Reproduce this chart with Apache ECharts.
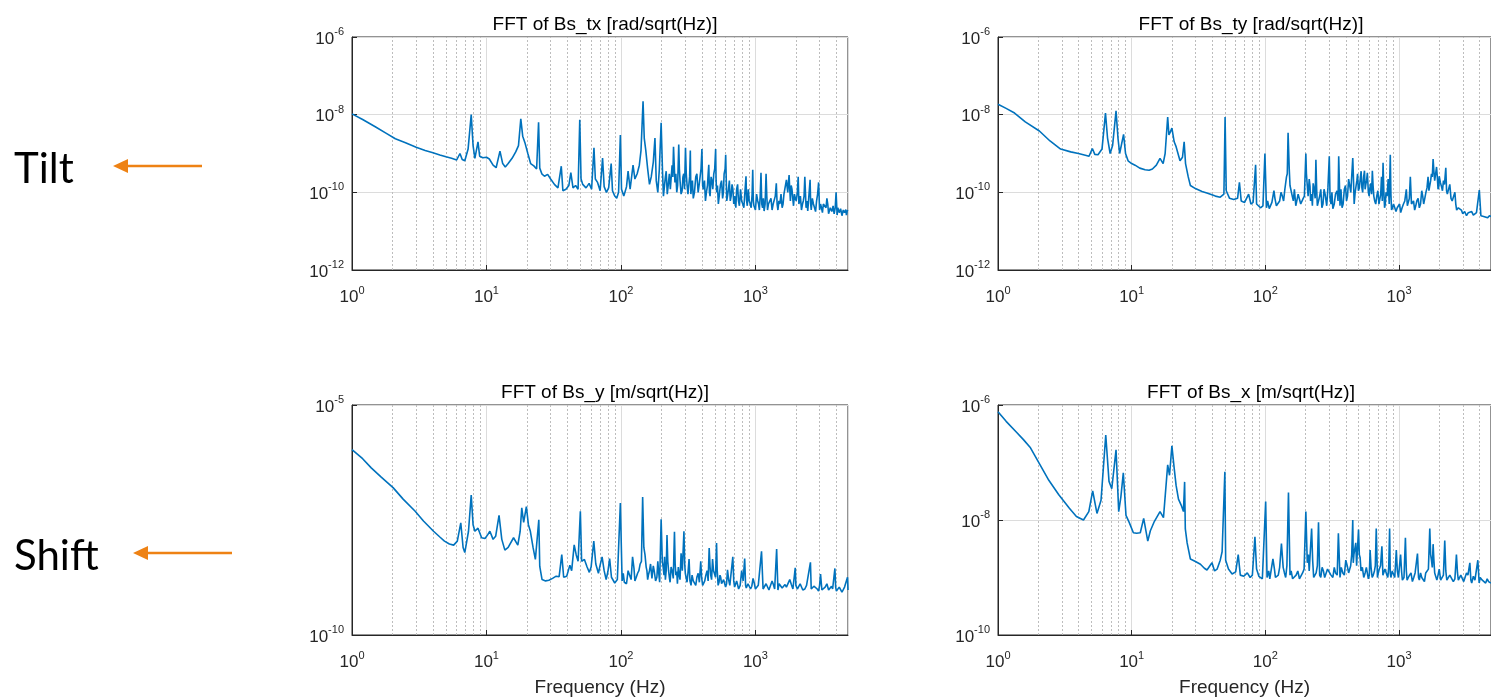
<!DOCTYPE html>
<html>
<head>
<meta charset="utf-8">
<script src="https://cdn.jsdelivr.net/npm/echarts@6/dist/echarts.min.js"></script>
<style>
html,body{margin:0;padding:0;background:#ffffff;}
#c{width:1491px;height:698px;}
</style>
</head>
<body>
<div id="c"></div>
<script>
// ---------- data ----------
const titles = ['FFT of Bs_tx [rad/sqrt(Hz)]', 'FFT of Bs_ty [rad/sqrt(Hz)]', 'FFT of Bs_y [m/sqrt(Hz)]', 'FFT of Bs_x [m/sqrt(Hz)]'];
const sideLabels = ['Tilt', 'Shift'];
const xLabel = 'Frequency (Hz)';
const freqRange = [1, 4880];
const yRangeTilt = [1e-12, 1e-6];
const yRangeShiftY = [1e-10, 1e-5];
const yRangeShiftX = [1e-10, 1e-6];
const yLabelStep = [2, 2, 5, 2];

const bsTx = [[1,1.05e-8],[1.2,7.5e-9],[1.5,4.8e-9],[1.8,3.3e-9],[2.1,2.4e-9],[2.5,1.9e-9],[3,1.45e-9],[3.5,1.2e-9],[4,1.05e-9],[4.5,9.2e-10],[5,8.2e-10],[5.5,7.5e-10],[6,6.8e-10],[6.35,1.0e-9],[6.6,7.0e-10],[6.9,6.5e-10],[7.3,1.3e-9],[7.7,1.0e-8],[7.95,1.6e-9],[8.2,7.5e-10],[8.65,2.0e-9],[8.9,8.5e-10],[9.4,7.8e-10],[10,8.0e-10],[10.5,7.2e-10],[11.2,5.0e-10],[11.8,4.3e-10],[12.6,1.15e-9],[13.2,5.5e-10],[13.8,4.5e-10],[14.5,5.5e-10],[15.5,7.5e-10],[16.5,1.1e-9],[17.3,1.6e-9],[18.0,7.8e-9],[18.6,2.8e-9],[19.4,1.8e-9],[20.3,1.0e-9],[21.3,5.5e-10],[22.5,4.8e-10],[23.6,4.0e-10],[24.4,6.4e-9],[24.9,4.2e-10],[25.8,3.0e-10],[27,2.6e-10],[28.5,2.9e-10],[30,2.2e-10],[32,1.6e-10],[34,1.3e-10],[36,4.7e-10],[37,1.1e-10],[39,1.2e-10],[41,1.5e-10],[42.4,3.2e-10],[44,1.3e-10],[46,1.5e-10],[48,1.2e-10],[49.4,7.4e-9],[50.5,2.2e-10],[52,1.6e-10],[55,1.3e-10],[58,1.7e-10],[60.5,1.2e-10],[63,1.4e-9],[64.5,2.2e-10],[67,1.8e-10],[70,1.1e-10],[73,7.6e-10],[75,1.4e-10],[78,1.0e-10],[81,1.3e-10],[84.6,5.5e-10],[86.5,1.1e-10],[90,8e-11],[93,7e-11],[96,1.0e-10],[99,3.0e-9],[101,1.2e-10],[105,8e-11],[110,1.4e-10],[113,3.5e-10],[117,1.2e-10],[123,5.0e-10],[127,2.2e-10],[132,3.0e-10],[137,5.0e-10],[141,1.2e-9],[146,2.2e-8],[149,2.5e-9],[153,1.2e-9],[158,4.0e-10],[163,1.6e-10],[168,2.5e-10],[174,6.0e-10],[179,2.5e-9],[183,2.0e-10],[188,1.0e-10],[193,4.0e-10],[199,6.2e-9],[204,3.0e-10],[210,1.3e-10],[217,3.5e-10],[225,1.6e-10],[233,1.2e-10],[240,5.0e-10],[246,1.5e-9],[252,1.8e-10],[260,1.0e-10],[269,1.7e-9],[275,2.0e-10],[285,1.1e-10],[293,3.0e-10],[302,1.4e-9],[310,1.6e-10],[320,8e-11],[328,1.2e-9],[335,1.4e-10],[345,7e-11],[360,2.5e-10],[375,1.0e-10],[388,1.4e-10],[400,1.3e-9],[410,1.2e-10],[425,6e-11],[440,1.5e-10],[450,5.1e-10],[460,8e-11],[475,2.0e-10],[490,3.0e-10],[506,1.3e-9],[515,1.0e-10],[530,5e-11],[550,1.6e-10],[570,7e-11],[585,3.0e-10],[601,9.3e-10],[612,6e-11],[630,1.2e-10],[650,6e-11],[670,1.6e-10],[690,5e-11],[715,4e-11],[737,1.6e-10],[760,4.5e-11],[790,6e-11],[820,4e-11],[851,2.6e-10],[870,4.5e-11],[900,6e-11],[930,4e-11],[955,3.8e-10],[975,4.5e-11],[1000,3.5e-11],[1040,6e-11],[1070,3.5e-11],[1100,3.2e-10],[1130,4e-11],[1160,3.3e-11],[1200,3.0e-10],[1230,3.5e-11],[1280,6e-11],[1330,3.5e-11],[1380,5e-11],[1430,1.7e-10],[1470,3.5e-11],[1520,5e-11],[1580,4e-11],[1630,9e-11],[1700,2.1e-10],[1740,1.0e-10],[1780,2.8e-10],[1820,6e-11],[1870,1.2e-10],[1920,4.5e-11],[1980,7e-11],[2080,2.5e-10],[2130,5e-11],[2200,3.5e-11],[2270,6e-11],[2330,2.5e-10],[2380,4e-11],[2450,3.3e-11],[2550,2.1e-10],[2600,3.5e-11],[2700,5e-11],[2800,3.2e-11],[2950,1.8e-10],[3000,3.5e-11],[3150,3.0e-11],[3300,4.5e-11],[3400,7e-11],[3500,2.8e-11],[3700,3.2e-11],[3850,2.8e-11],[3980,1.0e-10],[4050,2.6e-11],[4200,3.0e-11],[4400,2.5e-11],[4600,3.0e-11],[4750,2.6e-11],[4880,3.3e-11]];
const bsTxFill = [[207,8e-11],[214,2.5e-10],[221,9e-11],[229,3e-10],[236,1.1e-10],[243,2.5e-10],[256,3e-10],[264,1.5e-10],[272,4e-10],[280,9e-11],[289,2.5e-10],[297,1.2e-10],[306,3e-10],[315,9e-11],[324,2.5e-10],[331,9e-11],[340,2e-10],[352,1e-10],[367,3e-10],[381,1.5e-10],[394,4e-10],[405,1.5e-10],[418,2e-10],[432,1e-10],[445,3e-10],[455,1e-10],[468,2.5e-10],[482,1.2e-10],[498,4e-10],[510,2e-10],[522,1.5e-10],[540,9e-11],[560,2e-10],[578,1e-10],[595,4e-10],[620,8e-11],[640,2e-10],[660,8e-11],[680,1.2e-10],[700,8e-11],[725,1.2e-10],[748,6e-11],[775,1.2e-10],[805,5e-11],[835,1e-10],[860,6e-11],[885,1.2e-10],[915,5e-11],[945,9e-11],[965,6e-11],[990,5e-11],[1020,9e-11],[1055,5e-11],[1085,8e-11],[1115,5e-11],[1145,7e-11],[1180,5e-11],[1215,8e-11],[1250,5e-11],[1305,7e-11],[1355,5e-11],[1405,8e-11],[1450,5e-11],[1495,6e-11],[1550,9e-11],[1605,5e-11],[1660,1.3e-10],[1720,1.4e-10],[1760,1.8e-10],[1800,1.2e-10],[1845,1.5e-10],[1895,7e-11],[1950,9e-11],[2010,6e-11],[2050,1e-10],[2105,5e-11],[2160,8e-11],[2240,5e-11],[2300,8e-11],[2415,6e-11],[2490,7e-11],[2575,5e-11],[2650,7e-11],[2750,4.5e-11],[2850,6e-11],[2900,9e-11],[3050,5e-11],[3100,4e-11],[3200,5e-11],[3350,4e-11],[3450,5e-11],[3600,4e-11],[3780,4.5e-11],[3920,4e-11],[4100,4e-11],[4300,3.8e-11],[4500,3.5e-11],[4700,3.6e-11],[4820,3.4e-11]];

const bsTy = [[1,1.86e-8],[1.15,1.45e-8],[1.33,1.1e-8],[1.6,6.5e-9],[2.04,3.8e-9],[2.45,2.1e-9],[2.94,1.3e-9],[3.5,1.1e-9],[4.0,1.0e-9],[4.5,9.0e-10],[4.8,8.5e-10],[5.08,1.35e-9],[5.3,9.5e-10],[5.6,9.3e-10],[6.0,1.3e-9],[6.37,1.1e-8],[6.6,2.5e-9],[6.9,1.0e-9],[7.2,1.6e-9],[7.64,1.25e-8],[7.9,2.5e-9],[8.13,1.0e-9],[8.7,3.1e-9],[9.0,1.0e-9],[9.4,6.5e-10],[10,5.5e-10],[10.6,5.0e-10],[11.5,4.2e-10],[12.6,3.8e-10],[13.5,3.7e-10],[14.3,4.0e-10],[15.3,5.0e-10],[16.3,7.5e-10],[17.2,5.5e-10],[17.8,1.0e-9],[18.6,8.7e-9],[19.0,3.0e-9],[19.4,3.5e-9],[20,4.5e-9],[20.8,2.0e-9],[21.5,1.5e-9],[23,6.5e-10],[24.0,8.0e-10],[24.7,2.0e-9],[25.3,5.5e-10],[26.5,2.5e-10],[27.5,1.5e-10],[30,1.25e-10],[33.6,1.05e-10],[37,9.5e-11],[42.3,8e-11],[46,7.5e-11],[49,9e-11],[50,8.7e-9],[51,1.1e-10],[54,7e-11],[58,6.5e-11],[62,7e-11],[64,1.8e-10],[66,6e-11],[70,5.5e-11],[75,9e-11],[78,5e-11],[81,5.5e-11],[84.6,5.1e-10],[86,5e-11],[92,4e-11],[96,4.5e-11],[99.3,1.0e-9],[102,4e-11],[107,3.8e-11],[112,5.5e-11],[116,1.1e-10],[121,4.5e-11],[128,6e-11],[134,8e-11],[140,1.2e-10],[144,2.5e-10],[148,3.4e-9],[151,4.0e-10],[156,1.5e-10],[162,6e-11],[169,4.5e-11],[176,9e-11],[184,5e-11],[192,7e-11],[201,1.0e-9],[206,1.5e-10],[213,2.2e-10],[218,6e-11],[225,4.5e-11],[232,1.2e-10],[239,6.9e-10],[245,4.5e-11],[255,8e-11],[265,4e-11],[275,1.2e-10],[288,4.5e-11],[301,8.5e-10],[310,5e-11],[320,3.8e-11],[335,9e-11],[354,8.5e-10],[362,4.5e-11],[375,4e-11],[390,1.2e-10],[405,6e-11],[420,2.2e-10],[436,1.0e-10],[451,7.6e-10],[462,5e-11],[478,1.5e-10],[490,3.0e-10],[505,1.3e-10],[521,3.5e-10],[535,1.0e-10],[552,3.6e-10],[565,1.6e-10],[580,3.2e-10],[598,8e-11],[615,1.7e-10],[632,3.6e-10],[648,8e-11],[670,5e-11],[695,1.1e-10],[720,4.5e-11],[740,2.5e-10],[760,5.8e-10],[780,4e-11],[800,1.0e-10],[830,2.2e-10],[861,9.3e-10],[880,3.5e-11],[910,5e-11],[950,3.2e-11],[990,4.5e-11],[1030,3e-11],[1080,5e-11],[1135,1.2e-10],[1175,4e-11],[1216,2.5e-10],[1260,4.5e-11],[1310,3.5e-11],[1360,6e-11],[1420,4e-11],[1480,1.1e-10],[1530,5e-11],[1590,1.0e-10],[1650,2.5e-10],[1700,1.5e-10],[1750,3.0e-10],[1800,7.2e-10],[1850,2.0e-10],[1910,4.5e-10],[1960,1.2e-10],[2000,2.6e-10],[2080,1.4e-10],[2150,2.0e-10],[2240,4.3e-10],[2300,9e-11],[2400,1.6e-10],[2500,6e-11],[2620,1.0e-10],[2700,3.5e-11],[2860,4.5e-11],[3000,2.8e-11],[3200,2.5e-11],[3400,2.8e-11],[3600,2.6e-11],[3800,3.0e-11],[3990,1.15e-10],[4100,2.5e-11],[4300,2.4e-11],[4610,2.2e-11],[4880,2.4e-11]];
const bsTyFill = [[104,6e-11],[110,4e-11],[118,7e-11],[124,5e-11],[131,1e-10],[137,6e-11],[146,3e-10],[153,1.5e-10],[159,8e-11],[165,1.2e-10],[172,6e-11],[180,1e-10],[188,5e-11],[196,8e-11],[203,3e-10],[209,8e-11],[216,1.4e-10],[222,9e-11],[228,1.7e-10],[236,7e-11],[242,1.3e-10],[250,6e-11],[260,1.2e-10],[270,5e-11],[280,9e-11],[294,1.3e-10],[305,7e-11],[315,1e-10],[328,5e-11],[344,1.1e-10],[350,6e-11],[368,1.2e-10],[382,5e-11],[398,1.5e-10],[412,8e-11],[428,2e-10],[443,9e-11],[456,2.5e-10],[470,1e-10],[484,2e-10],[497,1.1e-10],[513,2.2e-10],[528,1.3e-10],[544,2.5e-10],[558,1.2e-10],[572,2e-10],[590,1e-10],[606,1.3e-10],[624,9e-11],[640,1.5e-10],[658,6e-11],[682,8e-11],[708,5e-11],[730,9e-11],[750,6e-11],[770,1.1e-10],[790,5e-11],[815,8e-11],[845,5e-11],[870,9e-11],[895,4e-11],[930,5e-11],[970,4e-11],[1010,5e-11],[1055,4e-11],[1105,6e-11],[1155,4.5e-11],[1195,7e-11],[1240,5e-11],[1285,6e-11],[1335,4.5e-11],[1390,7e-11],[1450,5e-11],[1505,8e-11],[1560,7e-11],[1620,1.3e-10],[1675,1.1e-10],[1725,2e-10],[1775,2.5e-10],[1825,3.5e-10],[1880,2.2e-10],[1935,2.5e-10],[1985,1.4e-10],[2040,1.8e-10],[2115,1.1e-10],[2190,1.6e-10],[2270,1.1e-10],[2350,9e-11],[2450,7e-11],[2560,6e-11],[2660,5e-11],[2780,4e-11],[2930,3.5e-11],[3100,3.2e-11],[3300,3e-11],[3500,3.2e-11],[3700,2.8e-11],[3900,3e-11],[4200,2.8e-11],[4450,2.6e-11],[4750,2.5e-11]];

const bsY = [[1,1.07e-6],[1.2,6.8e-7],[1.39,4.3e-7],[1.65,2.7e-7],[2.02,1.6e-7],[2.4,9e-8],[2.95,4.9e-8],[3.4,3.0e-8],[4.04,1.8e-8],[4.5,1.35e-8],[4.87,1.1e-8],[5.3,9.5e-9],[5.7,9.0e-9],[6.07,1.1e-8],[6.44,2.75e-8],[6.7,8e-9],[6.9,6.2e-9],[7.35,1.8e-8],[7.7,1.1e-7],[7.95,2.5e-8],[8.2,1.8e-8],[8.65,2.1e-8],[9.2,1.3e-8],[9.75,1.25e-8],[10.2,1.5e-8],[10.6,1.8e-8],[11.2,1.2e-8],[11.7,1.4e-8],[12.4,4.0e-8],[13.0,1.2e-8],[13.7,7.0e-9],[14.5,8e-9],[15.9,1.3e-8],[17.1,9e-9],[17.8,1.8e-8],[18.3,5.8e-8],[18.9,2.8e-8],[19.8,6.2e-8],[20.5,2.5e-8],[21.2,1.8e-8],[22.2,8e-9],[23.1,4.4e-9],[24.5,3.2e-8],[24.9,3.1e-9],[25.9,1.6e-9],[27.5,1.5e-9],[29.1,1.55e-9],[31,1.7e-9],[33,1.9e-9],[34.7,1.85e-9],[36.3,5.6e-9],[37.5,1.8e-9],[39.5,1.9e-9],[41.7,3.3e-9],[43,2.5e-9],[44.9,9.1e-9],[46.5,5.5e-9],[48,4e-9],[49.9,4.9e-8],[51,4e-9],[53.5,4.4e-9],[56,3e-9],[58.2,2.3e-9],[60,3.0e-9],[62.8,1.1e-8],[65,3.5e-9],[68,2.2e-9],[70,3.3e-9],[72.4,5.0e-9],[75,2.5e-9],[77.6,1.6e-9],[80,2.4e-9],[82.4,4.6e-9],[85,1.8e-9],[89.9,1.35e-9],[94,1.6e-9],[99,7.4e-8],[102,1.5e-9],[106,1.4e-9],[110,1.3e-9],[116,2.0e-9],[122,5.0e-9],[127,1.5e-9],[133,2.2e-9],[139,3.5e-9],[145,1.0e-7],[148,8e-9],[151,5.5e-9],[156,2.5e-9],[160,2.0e-9],[166,3.5e-9],[174,3.2e-9],[181,1.5e-9],[188,4e-9],[194,1.4e-9],[199,3.3e-8],[203,4e-9],[209,2.0e-9],[214,1.6e-9],[220,1.5e-8],[226,2.5e-9],[232,1.4e-9],[240,2.5e-9],[250,1.75e-8],[256,2.0e-9],[263,1.3e-9],[271,2.0e-9],[280,6e-9],[294,1.8e-8],[301,2.2e-9],[310,1.4e-9],[321,4.5e-9],[332,1.2e-9],[345,1.5e-9],[360,1.2e-9],[375,2.2e-9],[392,4.0e-9],[405,1.2e-9],[420,1.5e-9],[437,2.5e-9],[453,7.8e-9],[465,2.0e-9],[480,4.5e-9],[495,2.2e-9],[514,1.0e-8],[528,1.2e-9],[545,2.0e-9],[560,1.3e-9],[580,1.6e-9],[600,1.1e-9],[620,2.6e-9],[645,1.2e-9],[679,5.0e-9],[700,1.1e-9],[725,1.5e-9],[750,1.0e-9],[790,2.5e-9],[832,4.6e-9],[855,1.05e-9],[880,1.3e-9],[920,1.0e-9],[960,1.7e-9],[1000,1.0e-9],[1050,1.2e-9],[1110,6.6e-9],[1140,1.0e-9],[1200,1.3e-9],[1260,9.5e-10],[1330,1.5e-9],[1390,1.0e-9],[1438,7.4e-9],[1470,9.5e-10],[1550,1.2e-9],[1620,9.5e-10],[1700,1.1e-9],[1800,1.6e-9],[1900,1.0e-9],[1977,2.9e-9],[2050,1.0e-9],[2150,1.3e-9],[2250,9.5e-10],[2400,1.2e-9],[2565,3.8e-9],[2650,9.5e-10],[2800,1.2e-9],[2950,9.0e-10],[3050,2.1e-9],[3200,1.0e-9],[3400,1.3e-9],[3600,9e-10],[3750,1.0e-9],[3900,2.8e-9],[4000,9e-10],[4200,1.1e-9],[4400,8.5e-10],[4600,1.1e-9],[4840,1.8e-9],[4880,9.5e-10]];
const bsYFill = [[104,2.2e-9],[108,1.5e-9],[113,2.5e-9],[119,1.6e-9],[125,2.8e-9],[130,1.8e-9],[136,2.5e-9],[142,4e-9],[154,3e-9],[158,1.6e-9],[163,2.5e-9],[170,1.7e-9],[177,2.4e-9],[185,1.8e-9],[191,2.2e-9],[206,3e-9],[211,5e-9],[217,2.5e-9],[223,4e-9],[229,1.8e-9],[236,3e-9],[245,1.7e-9],[253,3.5e-9],[260,2.4e-9],[267,3e-9],[275,1.6e-9],[286,2.5e-9],[298,3.5e-9],[305,1.8e-9],[315,2.2e-9],[326,1.5e-9],[338,2e-9],[352,1.4e-9],[367,1.8e-9],[383,1.4e-9],[398,1.8e-9],[412,1.3e-9],[428,2e-9],[445,1.5e-9],[460,3e-9],[472,1.6e-9],[488,2.5e-9],[505,1.8e-9],[520,2.5e-9],[536,1.4e-9],[552,1.8e-9],[570,1.3e-9],[590,1.7e-9],[610,1.3e-9],[632,1.6e-9],[660,1.3e-9],[690,1.5e-9],[712,1.2e-9],[738,1.6e-9],[770,1.2e-9],[810,1.5e-9],[845,1.2e-9],[900,1.4e-9],[940,1.15e-9],[980,1.35e-9],[1025,1.1e-9],[1080,1.3e-9],[1170,1.1e-9],[1230,1.25e-9],[1300,1.05e-9],[1360,1.25e-9],[1420,1.05e-9],[1500,1.3e-9],[1580,1.05e-9],[1660,1.25e-9],[1750,1.0e-9],[1850,1.25e-9],[1940,1.05e-9],[2000,1.2e-9],[2100,1.0e-9],[2200,1.2e-9],[2330,1.0e-9],[2480,1.15e-9],[2600,1.0e-9],[2720,1.15e-9],[2880,1.0e-9],[3000,1.2e-9],[3120,9.5e-10],[3300,1.1e-9],[3500,9.5e-10],[3680,1.15e-9],[3820,9.5e-10],[3950,1.1e-9],[4100,9e-10],[4300,1.05e-9],[4500,9e-10],[4700,1.0e-9]];

const bsX = [[1,7.6e-7],[1.15,5.2e-7],[1.37,3.4e-7],[1.55,2.5e-7],[1.75,1.8e-7],[2.1,8.5e-8],[2.4,4.9e-8],[2.85,2.75e-8],[3.42,1.6e-8],[3.86,1.15e-8],[4.36,1.0e-8],[4.78,1.4e-8],[5.11,3.2e-8],[5.5,1.3e-8],[5.9,2.2e-8],[6.4,3.0e-7],[6.77,4.7e-8],[7.1,3.5e-8],[7.64,1.66e-7],[8.0,1.4e-8],[8.3,2.5e-8],[8.66,6.6e-8],[9.07,1.2e-8],[9.6,9e-9],[10.3,6.0e-9],[10.9,5.9e-9],[11.6,6.0e-9],[12.3,1.07e-8],[12.6,1.05e-8],[13.2,4.3e-9],[13.8,6.5e-9],[14.8,9.5e-9],[16.3,1.4e-8],[17.3,1.1e-8],[18.6,9.1e-8],[19.2,6e-8],[20.0,1.95e-7],[20.8,8e-8],[21.5,4e-8],[22.4,2.3e-8],[23.5,1.8e-8],[24.4,1.4e-8],[24.9,4.6e-8],[25.2,7e-9],[26,4e-9],[27.5,2.1e-9],[30,1.9e-9],[32.7,1.7e-9],[35,1.45e-9],[36.6,1.35e-9],[39.9,1.8e-9],[41.7,1.3e-9],[43.6,1.4e-9],[46,2.0e-9],[47.5,2.8e-9],[49.8,6.9e-8],[50.5,2.0e-9],[53,1.4e-9],[56.4,1.15e-9],[60,1.25e-9],[62.7,2.5e-9],[65,1.1e-9],[69,1.05e-9],[73.3,1.2e-9],[77,1.0e-9],[80,1.1e-9],[83.6,5.1e-9],[86,1.4e-9],[89.5,1.05e-9],[95,9.5e-10],[100.6,2.1e-8],[103,1.0e-9],[108,9.5e-10],[114,2.1e-9],[119,1.0e-9],[125,1.1e-9],[132,3.9e-9],[136,1.5e-9],[142,1.0e-9],[149,3.0e-8],[153,1.1e-9],[160,9.5e-10],[170,1.1e-9],[180,9.5e-10],[190,1.2e-9],[201,1.4e-8],[206,1.8e-9],[213,1.3e-9],[222,7.1e-9],[230,1.0e-9],[240,1.2e-9],[250,9.1e-9],[260,1.0e-9],[272,1.3e-9],[285,9.5e-10],[300,1.5e-9],[320,1.0e-9],[335,1.2e-9],[352,5.9e-9],[362,1.0e-9],[380,1.2e-9],[400,2.0e-9],[420,1.2e-9],[435,1.6e-9],[451,1.0e-8],[460,2.5e-9],[475,4.0e-9],[490,1.5e-9],[498,6.8e-9],[505,2.5e-9],[520,1.3e-9],[545,1.0e-9],[570,1.5e-9],[590,9.5e-10],[608,3.0e-9],[630,1.0e-9],[655,1.3e-9],[676,7.1e-9],[690,1.0e-9],[712,1.4e-9],[745,3.5e-9],[770,1.1e-9],[800,1.5e-9],[825,1.0e-9],[851,7.1e-9],[870,1.0e-9],[910,1.2e-9],[955,3.0e-9],[990,1.0e-9],[1028,2.5e-9],[1060,9e-10],[1117,4.9e-9],[1150,9e-10],[1200,1.1e-9],[1260,8.5e-10],[1320,1.2e-9],[1375,2.6e-9],[1420,9e-10],[1480,1.0e-9],[1550,8.5e-10],[1620,1.2e-9],[1700,7.1e-9],[1750,2.0e-9],[1800,3.8e-9],[1850,1.2e-9],[1920,9e-10],[2000,1.4e-9],[2100,9e-10],[2200,4.4e-9],[2280,9e-10],[2400,1.1e-9],[2550,8.5e-10],[2690,2.5e-9],[2780,9e-10],[2900,1.1e-9],[3050,8.5e-10],[3200,1.2e-9],[3390,1.8e-9],[3500,8e-10],[3700,9e-10],[3890,2.0e-9],[3980,8e-10],[4200,9e-10],[4450,8e-10],[4680,8.5e-10],[4880,8e-10]];
const bsXFill = [[106,1.3e-9],[111,9.5e-10],[117,1.4e-9],[122,1e-9],[128,1.5e-9],[139,1.2e-9],[145,1.6e-9],[156,1.3e-9],[165,1e-9],[175,1.3e-9],[185,1e-9],[195,1.4e-9],[210,2.5e-9],[218,1.4e-9],[226,2e-9],[235,1.1e-9],[245,1.6e-9],[255,1.1e-9],[266,1.5e-9],[278,1e-9],[292,1.4e-9],[310,1.1e-9],[328,1.5e-9],[345,1.1e-9],[370,1.5e-9],[390,1.1e-9],[410,1.6e-9],[428,1.2e-9],[443,2.5e-9],[455,1.8e-9],[468,2.5e-9],[482,1.6e-9],[512,2.2e-9],[532,1.5e-9],[558,1.2e-9],[580,1.5e-9],[600,1.1e-9],[618,1.5e-9],[642,1.1e-9],[665,1.6e-9],[700,1.2e-9],[728,1.6e-9],[758,1.1e-9],[785,1.4e-9],[812,1.1e-9],[838,1.5e-9],[860,1.2e-9],[890,1.3e-9],[930,1.0e-9],[972,1.3e-9],[1010,1.0e-9],[1045,1.3e-9],[1090,1.0e-9],[1135,1.3e-9],[1175,1.0e-9],[1230,1.2e-9],[1290,1.0e-9],[1345,1.25e-9],[1400,1.0e-9],[1450,1.2e-9],[1515,9.5e-10],[1585,1.2e-9],[1660,1.4e-9],[1725,2.5e-9],[1775,1.5e-9],[1825,2e-9],[1880,1.2e-9],[1960,1.1e-9],[2050,9e-10],[2150,1.1e-9],[2240,1.3e-9],[2330,9.5e-10],[2470,1.1e-9],[2620,9.5e-10],[2740,1.2e-9],[2840,9e-10],[2980,1.05e-9],[3120,9e-10],[3280,1.1e-9],[3450,9e-10],[3600,1.05e-9],[3800,9e-10],[4050,1.0e-9],[4320,9e-10],[4570,9.5e-10],[4800,8.5e-10]];

// ---------- layout / style ----------
const FONT = '"Liberation Sans", Arial, Helvetica, sans-serif';
const LINE_COLOR = '#0072BD';
const AX_COLOR = '#262626';
const grids = [
  {left: 352, top: 37, width: 496, height: 233},
  {left: 998, top: 37, width: 496, height: 233},
  {left: 352, top: 405, width: 496, height: 231},
  {left: 998, top: 405, width: 496, height: 231}
];
const yRanges = [yRangeTilt, yRangeTilt, yRangeShiftY, yRangeShiftX];
const byFreq = (a, b) => a[0] - b[0];
const seriesData = [
  bsTx.concat(bsTxFill).sort(byFreq),
  bsTy.concat(bsTyFill).sort(byFreq),
  bsY.concat(bsYFill).sort(byFreq),
  bsX.concat(bsXFill).sort(byFreq)
];

// minor (2..9 x decade) grid positions of the log frequency axis
const minorFreqs = [];
for (let d = 1; d <= 1000; d *= 10) {
  for (let m = 2; m <= 9; m++) {
    if (m * d < freqRange[1]) minorFreqs.push(m * d);
  }
}

const rich = {
  b: {fontSize: 17, fontFamily: FONT, color: AX_COLOR, verticalAlign: 'bottom', lineHeight: 18},
  s: {fontSize: 11, fontFamily: FONT, color: AX_COLOR, verticalAlign: 'bottom', padding: [0, 0, 10, 0]}
};

function powLabel(v, step, base) {
  const e = Math.log10(v);
  const r = Math.round(e);
  if (Math.abs(e - r) > 1e-6) return '';
  if (step && ((r - base) % step) !== 0) return '';
  return '{b|10}{s|' + r + '}';
}

const xAxes = [], yAxes = [], series = [], titleOpts = [];
grids.forEach((g, i) => {
  const yr = yRanges[i];
  const yMinExp = Math.round(Math.log10(yr[0]));
  const step = yLabelStep[i];
  xAxes.push({
    type: 'log', logBase: 10, gridIndex: i,
    min: freqRange[0], max: freqRange[1], splitNumber: 4,
    axisLine: {show: true, onZero: false, lineStyle: {color: AX_COLOR, width: 1}},
    axisTick: {show: true, inside: true, length: 5, lineStyle: {color: AX_COLOR}},
    axisLabel: {
      show: true, margin: 15, showMaxLabel: false,
      formatter: v => powLabel(v, 0, 0), rich: rich
    },
    splitLine: {show: true, lineStyle: {color: '#dcdcdc', width: 1}},
    name: i >= 2 ? xLabel : '',
    nameLocation: 'middle', nameGap: 43,
    nameTextStyle: {fontSize: 19, fontFamily: FONT, color: AX_COLOR}
  });
  yAxes.push({
    type: 'log', logBase: 10, gridIndex: i,
    min: yr[0], max: yr[1], interval: step,
    splitNumber: Math.round((Math.log10(yr[1]) - Math.log10(yr[0])) / step),
    axisLine: {show: true, onZero: false, lineStyle: {color: AX_COLOR, width: 1}},
    axisTick: {show: true, inside: true, length: 5, lineStyle: {color: AX_COLOR}},
    axisLabel: {
      show: true, margin: 8,
      formatter: v => powLabel(v, step, yMinExp), rich: rich
    },
    splitLine: {show: true, lineStyle: {color: '#dcdcdc', width: 1}}
  });
  series.push({
    type: 'line', xAxisIndex: i, yAxisIndex: i,
    data: seriesData[i], showSymbol: false, symbol: 'none',
    lineStyle: {color: LINE_COLOR, width: 1.6},
    z: 3, animation: false, silent: true,
    markLine: {
      silent: true, z: 1, symbol: ['none', 'none'], animation: false,
      label: {show: false},
      lineStyle: {color: '#bdbdbd', type: [2, 2], width: 1},
      data: minorFreqs.map(f => ({xAxis: f}))
    }
  });
  titleOpts.push({
    text: titles[i],
    left: g.left + g.width / 2, textAlign: 'center',
    top: g.top - 27,
    textStyle: {fontSize: 19, fontWeight: 'normal', fontFamily: FONT, color: '#000'}
  });
});

function arrow(x1, x2, y) {
  return [
    {type: 'line', shape: {x1: x1 + 12, y1: y, x2: x2, y2: y},
     style: {stroke: '#EE8214', lineWidth: 2.5}},
    {type: 'polygon', shape: {points: [[x1, y], [x1 + 15, y - 7], [x1 + 15, y + 7]]},
     style: {fill: '#EE8214'}}
  ];
}

const option = {
  backgroundColor: '#ffffff',
  animation: false,
  title: titleOpts,
  grid: grids.map(g => Object.assign({show: true, borderColor: AX_COLOR, borderWidth: 1, backgroundColor: '#fff'}, g)),
  xAxis: xAxes,
  yAxis: yAxes,
  series: series,
  graphic: [
    {type: 'text', left: 14, top: 148, style: {text: sideLabels[0], font: '42px Lato, "Open Sans", sans-serif', fill: '#000'}},
    {type: 'text', left: 14, top: 535, style: {text: sideLabels[1], font: '42px Lato, "Open Sans", sans-serif', fill: '#000'}}
  ].concat(arrow(113, 202, 166), arrow(133, 232, 553))
};

const chart = echarts.init(document.getElementById('c'));
chart.setOption(option);
</script>
</body>
</html>
